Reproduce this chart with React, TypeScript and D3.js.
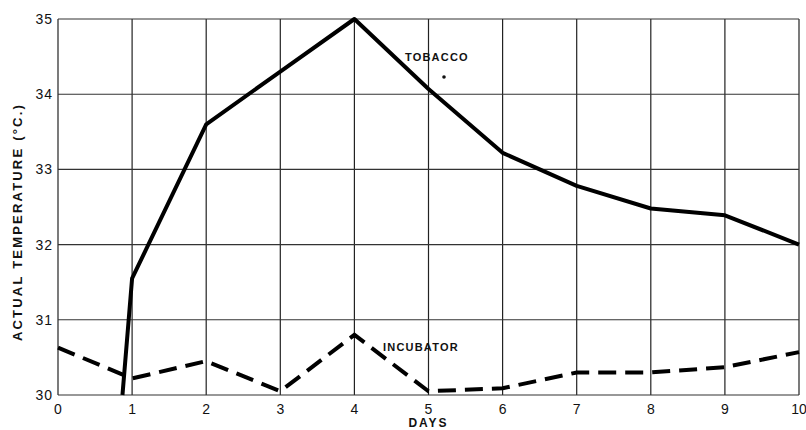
import React, { useEffect, useRef } from 'react';
import * as d3 from 'd3';

const days = [0, 1, 2, 3, 4, 5, 6, 7, 8, 9, 10];
const tempTicks = [30, 31, 32, 33, 34, 35];
const tobaccoDays = [0.87, 1, 2, 3, 4, 5, 6, 7, 8, 9, 10];
const tobaccoTemp = [30.0, 31.55, 33.6, 34.3, 35.0, 34.07, 33.22, 32.78, 32.48, 32.39, 32.0];
const incubatorTemp = [30.63, 30.22, 30.45, 30.05, 30.8, 30.05, 30.09, 30.3, 30.3, 30.37, 30.57];

export default function App() {
  const svgRef = useRef<SVGSVGElement>(null);

  useEffect(() => {
    const svg = d3.select(svgRef.current);
    svg.selectAll('*').remove();
    const width = 806;
    const height = 430;
    const m = { left: 58, right: 7, top: 19, bottom: 35 };
    const font = "'Liberation Sans', Arial, sans-serif";

    const x = d3.scaleLinear().domain([0, 10]).range([m.left, width - m.right]);
    const y = d3.scaleLinear().domain([30, 35]).range([height - m.bottom, m.top]);

    const g = svg.append('g');

    // grid
    g.selectAll('line.vx')
      .data(days)
      .join('line')
      .attr('x1', d => x(d)).attr('x2', d => x(d))
      .attr('y1', y(30)).attr('y2', y(35))
      .attr('stroke', '#222').attr('stroke-width', 1.2);
    g.selectAll('line.hy')
      .data(tempTicks)
      .join('line')
      .attr('x1', x(0)).attr('x2', x(10))
      .attr('y1', d => y(d)).attr('y2', d => y(d))
      .attr('stroke', '#333').attr('stroke-width', 1.1);

    // tick labels
    g.selectAll('text.xt')
      .data(days)
      .join('text')
      .attr('x', d => x(d))
      .attr('y', height - m.bottom + 19)
      .attr('text-anchor', 'middle')
      .attr('font-family', font).attr('font-size', 14)
      .attr('fill', '#111')
      .text(d => d);
    g.append('g').selectAll('text')
      .data(tempTicks)
      .join('text')
      .attr('x', m.left - 5)
      .attr('y', d => y(d) + 5)
      .attr('text-anchor', 'end')
      .attr('font-family', font).attr('font-size', 14)
      .attr('fill', '#111')
      .attr('letter-spacing', 1)
      .text(d => d);

    g.append('text')
      .attr('x', x(5)).attr('y', height - 3)
      .attr('text-anchor', 'middle')
      .attr('font-family', font).attr('font-size', 12).attr('font-weight', 'bold')
      .attr('letter-spacing', 2).attr('fill', '#111')
      .text('DAYS');
    g.append('text')
      .attr('transform', `translate(22,${y(32.3)}) rotate(-90)`)
      .attr('text-anchor', 'middle')
      .attr('font-family', font).attr('font-size', 13).attr('font-weight', 'bold')
      .attr('letter-spacing', 2.2).attr('fill', '#111')
      .text('ACTUAL TEMPERATURE (°C.)');

    const line = d3.line<[number, number]>().x(d => x(d[0])).y(d => y(d[1]));

    g.append('path')
      .datum(tobaccoDays.map((d, i) => [d, tobaccoTemp[i]] as [number, number]))
      .attr('d', line)
      .attr('fill', 'none').attr('stroke', '#000').attr('stroke-width', 4)
      .attr('stroke-linejoin', 'round');

    g.append('path')
      .datum(days.map((d, i) => [d, incubatorTemp[i]] as [number, number]))
      .attr('d', line)
      .attr('fill', 'none').attr('stroke', '#000').attr('stroke-width', 4)
      .attr('stroke-dasharray', '18 9');

    g.append('text')
      .attr('x', 405).attr('y', 61)
      .attr('font-family', font).attr('font-size', 11).attr('font-weight', 'bold')
      .attr('letter-spacing', 1.2).attr('fill', '#111')
      .text('TOBACCO');
    g.append('circle').attr('cx', 444).attr('cy', 77).attr('r', 1.8).attr('fill', '#111');
    g.append('text')
      .attr('x', 383).attr('y', 351)
      .attr('font-family', font).attr('font-size', 11).attr('font-weight', 'bold')
      .attr('letter-spacing', 1.2).attr('fill', '#111')
      .text('INCUBATOR');
  }, []);

  return <svg ref={svgRef} width={806} height={430} style={{ display: 'block', position: 'absolute', left: 0, top: 0, background: '#fff' }} />;
}
